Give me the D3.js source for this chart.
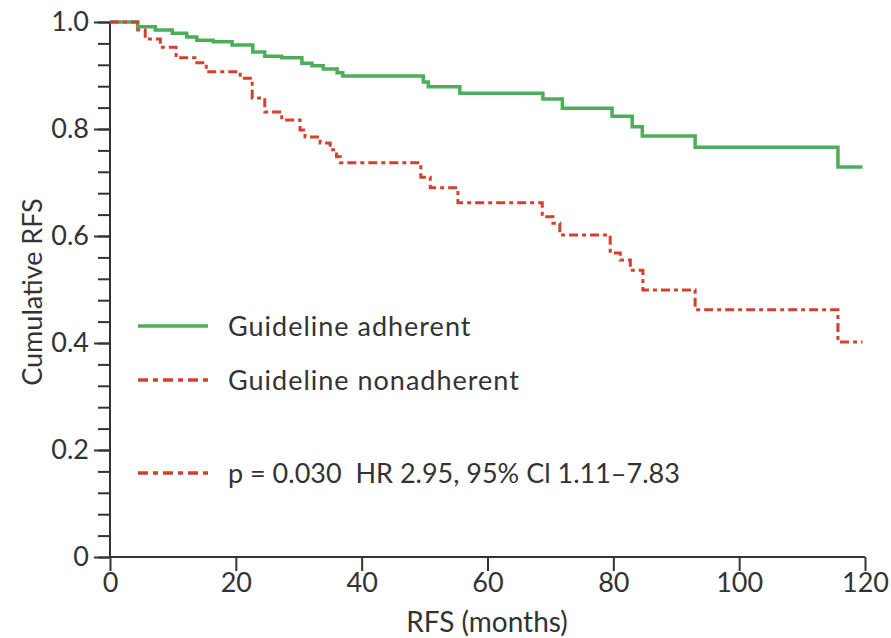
<!DOCTYPE html>
<html>
<head>
<meta charset="utf-8">
<script src="https://cdn.jsdelivr.net/npm/d3@7"></script>
<style>
  body { margin: 0; background: #fff; }
  text { font-family: Lato, "Open Sans", sans-serif; fill: #333; white-space: pre; }
</style>
</head>
<body>
<svg width="891" height="638"></svg>
<script>
const svg = d3.select('svg');

// Kaplan-Meier step data (months, cumulative RFS)
const adherentTime = [0, 4.4, 7.2, 9.9, 12.2, 13.8, 16.4, 19.4, 22.7, 24.6, 27.3, 30.5, 32.1, 33.9, 36.1, 37.0, 49.8, 50.6, 55.6, 68.8, 71.9, 79.8, 83.0, 84.6, 93.0, 115.7, 119.6];
const adherentRFS  = [1.0, 0.991, 0.985, 0.979, 0.972, 0.966, 0.963, 0.957, 0.944, 0.936, 0.933, 0.923, 0.918, 0.912, 0.905, 0.899, 0.888, 0.879, 0.867, 0.856, 0.839, 0.824, 0.804, 0.787, 0.766, 0.729, 0.729];

const nonadherentTime = [0, 4.4, 5.6, 8.0, 10.5, 13.5, 15.3, 20.7, 22.6, 24.6, 27.3, 30.2, 31.0, 33.4, 35.0, 36.0, 36.6, 49.4, 50.9, 55.3, 68.7, 70.4, 71.5, 79.5, 81.1, 82.7, 84.7, 93.0, 115.7, 119.6];
const nonadherentRFS  = [1.0, 0.985, 0.968, 0.953, 0.933, 0.924, 0.907, 0.895, 0.858, 0.832, 0.817, 0.798, 0.785, 0.774, 0.761, 0.748, 0.737, 0.710, 0.690, 0.662, 0.636, 0.624, 0.602, 0.568, 0.555, 0.536, 0.499, 0.462, 0.402, 0.402];

const xTicks = [0, 20, 40, 60, 80, 100, 120];
const yTicks = [0, 0.2, 0.4, 0.6, 0.8, 1.0];
const yTickLabels = ['0', '0.2', '0.4', '0.6', '0.8', '1.0'];

const legendLabels = ['Guideline adherent', 'Guideline nonadherent', 'p = 0.030  HR 2.95, 95% Cl 1.11\u20137.83'];

const green = '#4cae58';
const red = '#d2402e';
const dash = '9,4,4,4';

const x = d3.scaleLinear().domain([0, 120]).range([110, 865]);
const y = d3.scaleLinear().domain([0, 1]).range([557, 22]);

// y axis: minor ticks every 0.04, major every 0.2
const yMinor = svg.append('g').attr('transform', 'translate(110,0)')
  .call(d3.axisLeft(y).tickValues(d3.range(0, 1.001, 0.04)).tickSize(12).tickFormat(''));
const yMajor = svg.append('g').attr('transform', 'translate(110,0)')
  .call(d3.axisLeft(y).tickValues(yTicks).tickSize(16).tickPadding(5)
    .tickFormat((d, i) => yTickLabels[i]));

const xAxis = svg.append('g').attr('transform', 'translate(0,557)')
  .call(d3.axisBottom(x).tickValues(xTicks).tickSize(14).tickPadding(2));

[yMinor, yMajor, xAxis].forEach(g => {
  g.select('.domain').remove();
  g.selectAll('.tick line').attr('stroke', '#333').attr('stroke-width', 2);
  g.selectAll('.tick text').attr('font-size', 27).style('fill', '#333');
});

svg.append('line').attr('x1', 110).attr('x2', 110).attr('y1', y(1)).attr('y2', 557)
  .attr('stroke', '#333').attr('stroke-width', 2);
svg.append('line').attr('x1', 110).attr('x2', 865).attr('y1', 557).attr('y2', 557)
  .attr('stroke', '#333').attr('stroke-width', 2);

// axis titles
svg.append('text').attr('x', 487).attr('y', 632).attr('text-anchor', 'middle')
  .attr('font-size', 28).text('RFS (months)');
svg.append('text').attr('transform', 'translate(42,292) rotate(-90)').attr('text-anchor', 'middle')
  .attr('font-size', 27).text('Cumulative RFS');

// curves
const line = d3.line().x(d => x(d[0])).y(d => y(d[1])).curve(d3.curveStepAfter);

svg.append('path')
  .datum(d3.zip(adherentTime, adherentRFS))
  .attr('d', line).attr('fill', 'none')
  .attr('stroke', green).attr('stroke-width', 3.5);

svg.append('path')
  .datum(d3.zip(nonadherentTime, nonadherentRFS))
  .attr('d', line).attr('fill', 'none')
  .attr('stroke', red).attr('stroke-width', 3).attr('stroke-dasharray', dash);

// legend
const legendY = [326, 380, 473];
const legend = svg.append('g');
legendLabels.forEach((label, i) => {
  legend.append('line')
    .attr('x1', 138).attr('x2', 208).attr('y1', legendY[i]).attr('y2', legendY[i])
    .attr('stroke', i === 0 ? green : red)
    .attr('stroke-width', 3.5)
    .attr('stroke-dasharray', i === 0 ? null : '10,5,5,5');
  legend.append('text')
    .attr('x', 228).attr('y', legendY[i] + 10)
    .attr('font-size', 27)
    .attr('letter-spacing', i < 2 ? 1 : 0)
    .text(label);
});
</script>
</body>
</html>
